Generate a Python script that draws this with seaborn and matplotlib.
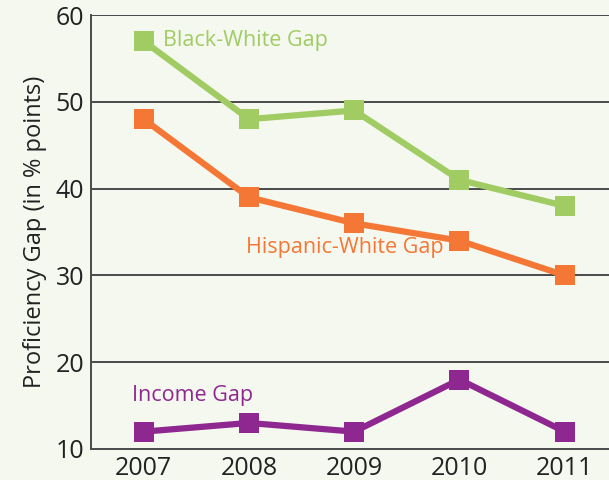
import matplotlib
matplotlib.use("Agg")
import matplotlib.pyplot as plt
import seaborn as sns
import pandas as pd

years = [2007, 2008, 2009, 2010, 2011]
black_white = [57, 48, 49, 41, 38]
hispanic_white = [48, 39, 36, 34, 30]
income = [12, 13, 12, 18, 12]
series_names = ["Black-White Gap", "Hispanic-White Gap", "Income Gap"]
colors = ["#a0cc63", "#f47735", "#8e278f"]

df = pd.DataFrame({
    "year": years * 3,
    "gap": black_white + hispanic_white + income,
    "series": [series_names[0]] * 5 + [series_names[1]] * 5 + [series_names[2]] * 5,
})

sns.set_style("white")
plt.rcParams["font.family"] = ["Open Sans", "DejaVu Sans"]
bg = "#f4f8ee"
fig = plt.figure(figsize=(6.09, 4.8), dpi=100, facecolor=bg)
ax = fig.add_axes([91 / 609, 31 / 480, 1 - 91 / 609, (449 - 15) / 480])
ax.set_facecolor(bg)

sns.lineplot(data=df, x="year", y="gap", hue="series", palette=colors,
             marker="s", markersize=15, linewidth=4.5, markeredgewidth=0,
             legend=False, ax=ax, zorder=3)

ax.set_xlim(2006.5, 2011.42)
ax.set_ylim(10, 60)
ax.set_xticks(years)
ax.set_xticklabels([str(y) for y in years])
ax.set_yticks([10, 20, 30, 40, 50, 60])
for v in [20, 30, 40, 50, 60]:
    ax.axhline(v, color="#4a4a4a", linewidth=1.4, zorder=1)
ax.tick_params(axis="both", labelsize=18, length=0, colors="#222222", pad=5)
ax.set_xlabel("")
ax.set_ylabel("Proficiency Gap (in % points)", fontsize=17, color="#222222", labelpad=6)
for s in ["top", "right"]:
    ax.spines[s].set_visible(False)
for s in ["left", "bottom"]:
    ax.spines[s].set_color("#4a4a4a")
    ax.spines[s].set_linewidth(1.4)

label_pos = [(2007.18, 57.1), (2007.97, 33.2), (2006.89, 16.2)]
for name, c, (x, y) in zip(series_names, colors, label_pos):
    ax.text(x, y, name, color=c, fontsize=15.5, ha="left", va="center")

fig.savefig("out.png", dpi=100, facecolor=bg)
